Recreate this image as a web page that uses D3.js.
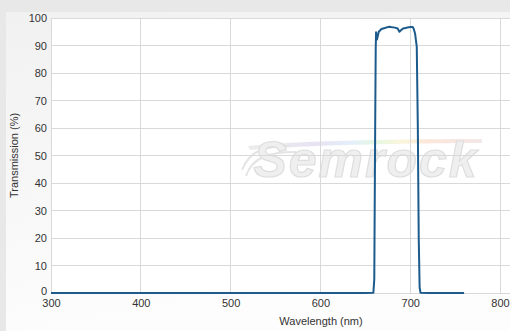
<!DOCTYPE html>
<html>
<head>
<meta charset="utf-8">
<script src="https://cdn.jsdelivr.net/npm/d3@7"></script>
<style>
  html, body { margin: 0; padding: 0; background: #e8e8e8; }
  svg { display: block; }
</style>
</head>
<body>
<svg id="chart" width="510" height="331"></svg>
<script>
// Filter transmission spectrum (wavelength in nm, transmission in %)
const wavelength = [300, 400, 500, 600, 650, 659, 660, 661, 661.6, 662, 663, 665, 668, 671, 674, 677.5, 680, 683, 686, 688, 690, 692, 695, 698, 701, 702.8, 704, 705.4, 707.3, 708.5, 709.5, 710.5, 711.5, 720, 740, 760];
const transmission = [0, 0, 0, 0, 0, 0.1, 5, 60, 89, 94.8, 92.2, 95, 96, 96.3, 96.6, 96.8, 96.6, 96.5, 96.2, 95, 95.6, 96.2, 96.4, 96.6, 96.7, 96.7, 96, 94.4, 89.6, 60, 20, 2, 0.1, 0, 0, 0];
const xTicks = [300, 400, 500, 600, 700, 800];
const yTicks = [0, 10, 20, 30, 40, 50, 60, 70, 80, 90, 100];
const xTitle = "Wavelength (nm)";
const yTitle = "Transmission (%)";

const svg = d3.select("#chart");
const W = 510, H = 331;
const m = { left: 51, top: 18, right: 0, bottom: 38 };
const font = "Liberation Sans, Arial, sans-serif";

const defs = svg.append("defs");
const panelGrad = defs.append("linearGradient").attr("id", "panelGrad")
  .attr("x1", 0).attr("y1", 0).attr("x2", 0.3).attr("y2", 1);
panelGrad.append("stop").attr("offset", "0%").attr("stop-color", "#f1f1f1");
panelGrad.append("stop").attr("offset", "100%").attr("stop-color", "#fdfdfd");

const rainbow = defs.append("linearGradient").attr("id", "rainbow")
  .attr("x1", 0).attr("y1", 0).attr("x2", 1).attr("y2", 0);
[["0%", "#eaeaea"], ["30%", "#e6e0f2"], ["45%", "#dfeefa"], ["55%", "#e4f7df"], ["65%", "#f9f5d8"], ["78%", "#fbe3d6"], ["100%", "#f1e6e6"]]
  .forEach(([o, c]) => rainbow.append("stop").attr("offset", o).attr("stop-color", c));

// panel background
svg.append("rect").attr("x", 6).attr("y", 12).attr("width", W - 6).attr("height", H - 12)
  .attr("fill", "url(#panelGrad)");

const x = d3.scaleLinear().domain([300, 800]).range([m.left, 500]);
const y = d3.scaleLinear().domain([0, 100]).range([293, m.top]);

// plot area
svg.append("rect").attr("x", m.left).attr("y", m.top)
  .attr("width", W - m.left).attr("height", y(0) - m.top).attr("fill", "#ffffff");

// watermark logo
const wm = svg.append("g").attr("pointer-events", "none");
wm.append("path")
  .attr("d", "M248,146 C300,140 420,139 482,139 L482,143 C420,143 300,145 250,150 Z")
  .attr("fill", "url(#rainbow)").attr("opacity", 0.9);
wm.append("path")
  .attr("d", "M242,170 C250,150 265,146 290,146 M246,176 C252,158 268,152 296,152")
  .attr("fill", "none").attr("stroke", "#e4e4e4").attr("stroke-width", 2);
wm.append("text")
  .attr("x", 366).attr("y", 177)
  .attr("text-anchor", "middle")
  .attr("font-family", font)
  .attr("font-size", 50).attr("font-weight", "bold").attr("font-style", "italic")
  .attr("letter-spacing", 2)
  .attr("fill", "#efefef").attr("stroke", "#dedede").attr("stroke-width", 1.2)
  .text("Semrock");

// grid
const grid = svg.append("g").attr("stroke", "#d9d9d9").attr("stroke-width", 1).attr("shape-rendering", "crispEdges");
grid.selectAll(".h").data(yTicks).join("line")
  .attr("x1", m.left).attr("x2", W).attr("y1", d => y(d)).attr("y2", d => y(d));
grid.selectAll(".v").data(xTicks).join("line")
  .attr("x1", d => x(d)).attr("x2", d => x(d)).attr("y1", m.top).attr("y2", y(0));

// axes (labels only)
const yAxis = svg.append("g").attr("transform", `translate(${m.left},0)`)
  .call(d3.axisLeft(y).tickValues(yTicks).tickSize(0).tickPadding(4));
yAxis.select(".domain").remove();
yAxis.selectAll("text").attr("fill", "#333").attr("font-size", 11).attr("font-family", font);
yAxis.selectAll(".tick").filter(d => d === 0).select("text").attr("dy", "0.1em");

const xAxis = svg.append("g").attr("transform", `translate(0,${y(0)})`)
  .call(d3.axisBottom(x).tickValues(xTicks).tickSize(0).tickPadding(6));
xAxis.select(".domain").remove();
xAxis.selectAll("text").attr("fill", "#333").attr("font-size", 11).attr("font-family", font);

// titles
svg.append("text").attr("x", 321).attr("y", 325).attr("text-anchor", "middle")
  .attr("font-family", font).attr("font-size", 11).attr("fill", "#333")
  .text(xTitle);
svg.append("text").attr("transform", `translate(18,${(y(0) + m.top) / 2}) rotate(-90)`)
  .attr("text-anchor", "middle")
  .attr("font-family", font).attr("font-size", 11).attr("fill", "#333")
  .text(yTitle);

// spectrum line
const pts = wavelength.map((w, i) => [w, transmission[i]]);
svg.append("path").datum(pts)
  .attr("fill", "none").attr("stroke", "#1d5b8c").attr("stroke-width", 2)
  .attr("stroke-linejoin", "round")
  .attr("d", d3.line().x(d => x(d[0])).y(d => y(d[1])));
</script>
</body>
</html>
